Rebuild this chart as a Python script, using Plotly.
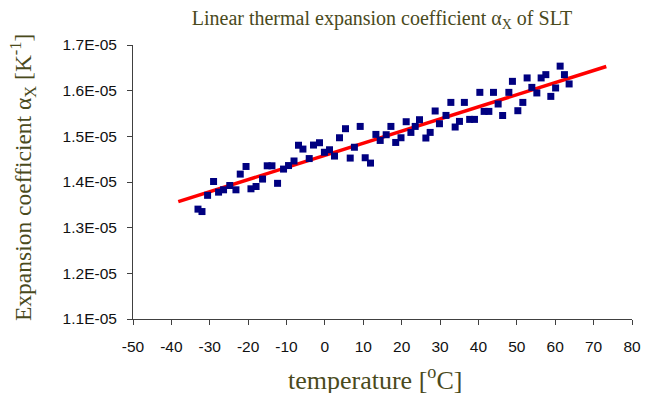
import plotly.graph_objects as go

# Measured data: temperature [°C] and expansion coefficient (units of 1e-5 K^-1)
temperature = [-33.07, -32.03, -30.57, -29.01, -27.71, -26.41, -24.79, -23.18, -22.06, -20.55,
               -19.27, -17.94, -16.25, -15.03, -13.80, -12.34, -10.78, -9.48, -8.05, -6.88,
               -5.73, -4.09, -2.97, -1.41, -0.13, 1.20, 2.50, 3.80, 5.36, 6.59,
               7.68, 9.19, 10.49, 11.88, 13.28, 14.40, 15.96, 17.19, 18.44, 19.82,
               21.17, 22.40, 23.52, 24.64, 26.30, 27.42, 28.72, 29.84, 31.54, 32.81,
               33.93, 35.05, 36.33, 37.71, 38.96, 40.36, 41.48, 42.71, 43.91, 45.13,
               46.30, 47.92, 48.85, 50.26, 51.56, 52.68, 53.91, 55.21, 56.33, 57.55,
               58.85, 60.10, 61.28, 62.40, 63.62]
alpha_e5 = [1.3406, 1.3353, 1.3708, 1.4011, 1.3778, 1.3829, 1.3923, 1.3829, 1.4173, 1.4340,
            1.3851, 1.3901, 1.4064, 1.4355, 1.4355, 1.3971, 1.4283, 1.4360, 1.4460, 1.4805,
            1.4721, 1.4513, 1.4809, 1.4860, 1.4651, 1.4706, 1.4568, 1.4969, 1.5167, 1.4524,
            1.4761, 1.5217, 1.4531, 1.4414, 1.5042, 1.4910, 1.5035, 1.5217, 1.4866, 1.4969,
            1.5320, 1.5086, 1.5217, 1.5364, 1.4963, 1.5086, 1.5555, 1.5276, 1.5458, 1.5743,
            1.5204, 1.5327, 1.5743, 1.5371, 1.5371, 1.5963, 1.5546, 1.5546, 1.5963, 1.5708,
            1.5456, 1.5963, 1.6204, 1.5561, 1.5743, 1.6279, 1.6072, 1.5950, 1.6279, 1.6351,
            1.5875, 1.6059, 1.6537, 1.6351, 1.6147]

# Linear fit: alpha = intercept + slope * T
fit_intercept = 1.4584e-5
fit_slope = 2.655e-8
fit_T = [-38.2, 73.3]

x_ticks = [-50, -40, -30, -20, -10, 0, 10, 20, 30, 40, 50, 60, 70, 80]
x_ticklabels = ["-50", "-40", "-30", "-20", "-10", "0", "10", "20", "30", "40", "50", "60", "70", "80"]
y_tickvals = [1.1e-5, 1.2e-5, 1.3e-5, 1.4e-5, 1.5e-5, 1.6e-5, 1.7e-5]
y_ticklabels = ["1.1E-05", "1.2E-05", "1.3E-05", "1.4E-05", "1.5E-05", "1.6E-05", "1.7E-05"]

alpha = [v * 1e-5 for v in alpha_e5]
fit_y = [fit_intercept + fit_slope * t for t in fit_T]

olive = "#4a4a1c"
W, H = 641, 385
L, R, T, B = 125, 17, 37, 74
PW, PH = W - L - R, H - T - B

fig = go.Figure()
fig.add_trace(go.Scatter(x=fit_T, y=fit_y, mode="lines",
                         line=dict(color="#ff0000", width=3.5), hoverinfo="skip"))
fig.add_trace(go.Scatter(x=temperature, y=alpha, mode="markers",
                         marker=dict(symbol="square", size=7, color="#000080",
                                     line=dict(width=0))))

fig.update_layout(
    width=W, height=H,
    margin=dict(l=L, r=R, t=T, b=B),
    paper_bgcolor="white", plot_bgcolor="white",
    showlegend=False,
    title=dict(text="Linear thermal expansion coefficient α<sub>X</sub> of SLT",
               x=374 / W, xanchor="center", y=1 - 10 / H, yanchor="middle",
               font=dict(family="Liberation Serif", size=20, color=olive)),
    xaxis=dict(range=[-50, 80], tickvals=x_ticks, ticktext=x_ticklabels,
               ticks="outside", ticklen=5,
               tickcolor="#404040", showline=True, linecolor="#404040", linewidth=1,
               showgrid=False, zeroline=False, ticklabelstandoff=8, automargin=False,
               tickfont=dict(family="Liberation Sans", size=15.5, color="#111111")),
    yaxis=dict(range=[1.1e-5, 1.7e-5], tickvals=y_tickvals, ticktext=y_ticklabels,
               ticks="outside", ticklen=5, tickcolor="#404040", showline=True,
               linecolor="#404040", linewidth=1, showgrid=False, zeroline=False,
               ticklabelstandoff=7, automargin=False,
               tickfont=dict(family="Liberation Sans", size=15.5, color="#111111")),
    annotations=[
        dict(text="temperature [<sup>o</sup>C]", xref="paper", yref="paper",
             x=(367 - L) / PW, y=1 - (370 - T) / PH, xanchor="center", yanchor="middle",
             showarrow=False, font=dict(family="Liberation Serif", size=26, color=olive)),
        dict(text="Expansion coefficient α<sub>X</sub> [K<sup>-1</sup>]", xref="paper", yref="paper",
             x=(15 - L) / PW, y=1 - (170 - T) / PH, xanchor="center", yanchor="middle",
             textangle=-90, showarrow=False,
             font=dict(family="Liberation Serif", size=23.5, color=olive)),
    ],
)

fig.write_html("out.html")
